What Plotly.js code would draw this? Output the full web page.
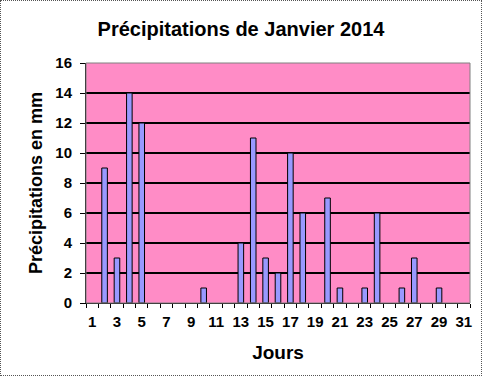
<!DOCTYPE html>
<html><head><meta charset="utf-8">
<script src="https://cdn.plot.ly/plotly-3.0.1.min.js"></script>
<style>html,body{margin:0;padding:0;background:#fff}#c{width:480px;height:374px;border:1px dotted #555}</style>
</head><body><div id="c"></div>
<script>
const days = [2,3,4,5,10,13,14,15,16,17,18,20,21,23,24,26,27,29];
const rain = [9,3,14,12,1,4,11,3,2,10,6,7,1,1,6,1,3,1];
const tickDays = [1,3,5,7,9,11,13,15,17,19,21,23,25,27,29,31];
const F = 'Liberation Sans, Arial, sans-serif';
Plotly.newPlot('c', [{
  type:'bar', x: days, y: rain, width: 0.45,
  marker:{color:'#9999FF', line:{color:'#000', width:1}}
}], {
  width:480, height:374,
  margin:{l:85, r:11, t:62, b:72},
  paper_bgcolor:'#fff', plot_bgcolor:'#FF8CC6',
  showlegend:false,
  title:{text:'<b>Précipitations de Janvier 2014</b>', font:{family:F, size:20, color:'#000'}, x:0.5, xanchor:'center', y:0.925, yanchor:'middle'},
  xaxis:{range:[0.5,31.5], tickmode:'array', tickvals:tickDays, ticktext:tickDays.map(String),
    ticks:'', showgrid:false, zeroline:false, showline:true, linecolor:'#000', linewidth:1, mirror:false,
    ticklabelstandoff:5,
    tickfont:{family:F, size:15, color:'#000', weight:'bold'},
    minor:{tickmode:'linear', tick0:0.5, dtick:1, ticks:'outside', ticklen:4, tickcolor:'#000', showgrid:false},
    title:{text:'<b>Jours</b>', font:{family:F, size:19, color:'#000'}, standoff:16}},
  yaxis:{range:[0,16], dtick:2, ticks:'outside', ticklen:5, tickcolor:'#000',
    showgrid:true, gridcolor:'#000', gridwidth:2, zeroline:false, showline:true, linecolor:'#000', linewidth:1,
    ticklabelstandoff:5,
    tickfont:{family:F, size:15, color:'#000', weight:'bold'},
    title:{text:'<b>Précipitations en mm</b>', font:{family:F, size:18, color:'#000'}, standoff:8}},
  shapes:[{type:'rect', xref:'paper', yref:'paper', x0:0, x1:1, y0:0, y1:1, line:{color:'#808080', width:1}}]
}, {displayModeBar:false, staticPlot:true});
</script></body></html>
